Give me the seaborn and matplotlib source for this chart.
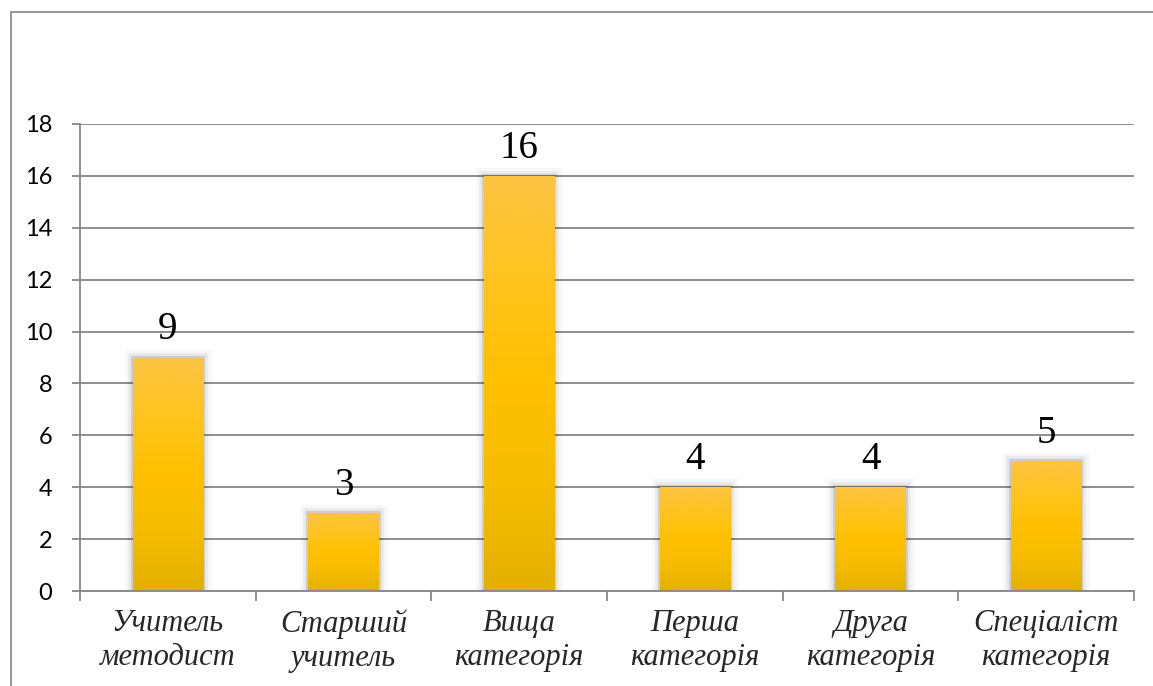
import numpy as np
import matplotlib
matplotlib.use("Agg")
import matplotlib.pyplot as plt
import matplotlib.patheffects as pe
from matplotlib.colors import LinearSegmentedColormap
from matplotlib.patches import Rectangle
from matplotlib.ticker import FixedLocator, NullFormatter
import seaborn as sns

categories = ["Учитель\nметодист", "Старший\nучитель", "Вища\nкатегорія",
              "Перша\nкатегорія", "Друга\nкатегорія", "Спеціаліст\nкатегорія"]
values = [9, 3, 16, 4, 4, 5]
yticks = [0, 2, 4, 6, 8, 10, 12, 14, 16, 18]

sns.set_style("white")
plt.rcParams["font.family"] = ["Lato", "DejaVu Sans"]

W, H = 1153, 686
fig = plt.figure(figsize=(W / 100, H / 100), dpi=100)
ax = fig.add_axes([80 / W, 1 - 591 / H, (1134 - 80) / W, (591 - 124) / H])

sns.barplot(x=categories, y=values, color="#FFC000", width=0.4, ax=ax,
            saturation=1, linewidth=0)

cmap = LinearSegmentedColormap.from_list(
    "gold", ["#E3B000", "#F5BD00", "#FFC000", "#FEC41E", "#FDC444"])
grad = np.linspace(0, 1, 256).reshape(-1, 1)

for p in ax.patches:
    x0, y0 = p.get_x(), p.get_y()
    w, h = p.get_width(), p.get_height()
    p.set_path_effects([
        pe.Stroke(linewidth=12, foreground="#000000", alpha=0.03),
        pe.Stroke(linewidth=7, foreground="#000000", alpha=0.05),
        pe.Stroke(linewidth=3, foreground="#000000", alpha=0.12),
        pe.Normal(),
    ])
    im = ax.imshow(grad, extent=[x0, x0 + w, y0, y0 + h], origin="lower",
                   aspect="auto", cmap=cmap, zorder=p.get_zorder() + 0.1,
                   interpolation="bicubic")
    im.set_clip_path(p)
    ax.annotate(f"{int(h)}", xy=(x0 + w / 2, y0 + h), xytext=(0, 13),
                textcoords="offset points", ha="center", va="baseline",
                fontsize=28, family=["Liberation Serif"], color="#000000")

ax.set_xlim(-0.5, len(categories) - 0.5)
ax.set_ylim(0, 18)
ax.set_yticks(yticks)
ax.set_yticklabels([str(t) for t in yticks], fontsize=17, color="#000000")

ax.yaxis.grid(True, color="#868686", linewidth=1.3)
ax.xaxis.grid(False)
ax.set_axisbelow(True)

for s in ["top", "right"]:
    ax.spines[s].set_visible(False)
for s in ["left", "bottom"]:
    ax.spines[s].set_color("#868686")
    ax.spines[s].set_linewidth(1.3)

ax.tick_params(axis="y", which="major", length=6, width=1.3, color="#868686",
               direction="out", left=True, pad=14)
ax.tick_params(axis="x", which="major", length=0, pad=13)
ax.xaxis.set_minor_locator(FixedLocator(np.arange(-0.5, len(categories), 1.0)))
ax.xaxis.set_minor_formatter(NullFormatter())
ax.tick_params(axis="x", which="minor", length=7, width=1.3, color="#868686",
               direction="out", bottom=True)
for lbl in ax.get_xticklabels():
    lbl.set_fontfamily(["Liberation Serif"])
    lbl.set_fontstyle("italic")
    lbl.set_fontsize(22)
    lbl.set_linespacing(1.22)
ax.set_xlabel("")
ax.set_ylabel("")

border = Rectangle((11 / W, -0.5), 2.0, 1 - 12 / H + 0.5, transform=fig.transFigure,
                   fill=False, edgecolor="#8C8C8C", linewidth=1.3, clip_on=False)
fig.add_artist(border)

fig.savefig("out.png", dpi=100, facecolor="white")
